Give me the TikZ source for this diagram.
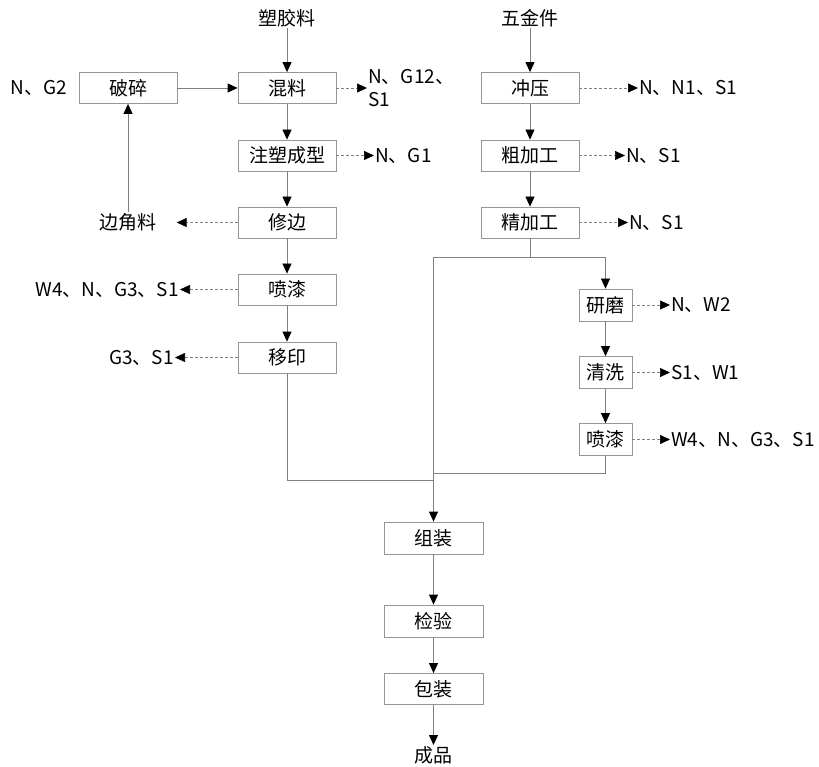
\documentclass[tikz,border=0pt]{standalone}
\usepackage{fontspec}
\setmainfont{Noto Sans CJK SC}
\usetikzlibrary{arrows.meta}
\definecolor{lineg}{RGB}{128,128,128}
\definecolor{boxg}{RGB}{150,150,150}
\begin{document}
\begin{tikzpicture}[x=1pt,y=-1pt,
  every node/.style={font=\fontsize{19}{23}\selectfont, inner sep=1pt},
  stepbox/.style={draw=boxg, line width=0.8pt, minimum width=98pt, minimum height=31pt, inner sep=0pt},
  smallbox/.style={stepbox, minimum width=53pt},
  tip/.style={-{Triangle[length=10pt,width=9pt,color=black]}},
  flow/.style={draw=lineg, line width=0.8pt, tip},
  link/.style={draw=lineg, line width=0.8pt},
  emit/.style={draw=lineg, line width=0.7pt, dash pattern=on 3pt off 2pt, tip}]
\useasboundingbox (0,0) rectangle (819,767);

% raw materials
\node (raw1) at (287,18) {塑胶料};
\node (raw2) at (530,18) {五金件};

% plastic parts line
\node[stepbox] (crush) at (128,88) {破碎};
\node[stepbox] (mix) at (287,88) {混料};
\node[stepbox] (mold) at (287,155.5) {注塑成型};
\node[stepbox] (trim) at (287,222.5) {修边};
\node[stepbox] (paint1) at (287,289.5) {喷漆};
\node[stepbox] (print) at (287,357.5) {移印};
\node (scrap) at (128,222.5) {边角料};
\node[anchor=east] (eCrush) at (68,88) {N、G2};

% metal parts line
\node[stepbox] (press) at (530,88) {冲压};
\node[stepbox] (rough) at (530,155.5) {粗加工};
\node[stepbox] (fine) at (530,222.5) {精加工};
\node[smallbox, minimum height=32pt] (grind) at (605.5,305) {研磨};
\node[smallbox, minimum height=32pt] (wash) at (605.5,372.5) {清洗};
\node[smallbox, minimum height=32pt] (paint2) at (605.5,439.5) {喷漆};

% assembly line
\node[stepbox, minimum width=99pt, minimum height=32pt] (asm) at (433.5,538) {组装};
\node[stepbox, minimum width=99pt, minimum height=32pt] (insp) at (433.5,621) {检验};
\node[stepbox, minimum width=99pt, minimum height=31pt] (pack) at (433.5,689) {包装};
\node (prod) at (433.5,755) {成品};

% emission labels
\node[anchor=west, align=left] (eMix) at (367,88) {N、G12、\\S1};
\node[anchor=west] (eMold) at (374,155.5) {N、G1};
\node[anchor=east] (ePaint1) at (180,289.5) {W4、N、G3、S1};
\node[anchor=east] (ePrint) at (175,357.5) {G3、S1};
\node[anchor=west] (ePress) at (638,88) {N、N1、S1};
\node[anchor=west] (eRough) at (625,155.5) {N、S1};
\node[anchor=west] (eFine) at (628,222.5) {N、S1};
\node[anchor=west] (eGrind) at (670,305) {N、W2};
\node[anchor=west] (eWash) at (670,372.5) {S1、W1};
\node[anchor=west] (ePaint2) at (670,439.5) {W4、N、G3、S1};

% junction points
\coordinate (sp) at (530,257);
\coordinate (jL) at (433.5,480);
\coordinate (jR) at (433.5,473);

% main flow
\draw[flow] (raw1) -- (mix);
\draw[flow] (raw2) -- (press);
\draw[flow] (crush) -- (mix);
\draw[flow] (scrap) -- (crush);
\draw[flow] (mix) -- (mold);
\draw[flow] (mold) -- (trim);
\draw[flow] (trim) -- (paint1);
\draw[flow] (paint1) -- (print);
\draw[flow] (press) -- (rough);
\draw[flow] (rough) -- (fine);
\draw[link] (fine.south) -- (sp);
\draw[flow] (sp) -| (grind.north);
\draw[flow] (sp) -| (asm.north);
\draw[flow] (grind) -- (wash);
\draw[flow] (wash) -- (paint2);
\draw[link] (print.south) |- (jL);
\draw[link] (paint2.south) |- (jR);
\draw[flow] (asm) -- (insp);
\draw[flow] (insp) -- (pack);
\draw[flow] (pack) -- (prod);

% emissions
\draw[emit] (mix.east) -- (eMix.west);
\draw[emit] (mold.east) -- (eMold.west);
\draw[emit, shorten >=19pt] (trim.west) -- (scrap.east);
\draw[emit] (paint1.west) -- (ePaint1.east);
\draw[emit] (print.west) -- (ePrint.east);
\draw[emit] (press.east) -- (ePress.west);
\draw[emit] (rough.east) -- (eRough.west);
\draw[emit] (fine.east) -- (eFine.west);
\draw[emit] (grind.east) -- (eGrind.west);
\draw[emit] (wash.east) -- (eWash.west);
\draw[emit] (paint2.east) -- (ePaint2.west);
\end{tikzpicture}
\end{document}
